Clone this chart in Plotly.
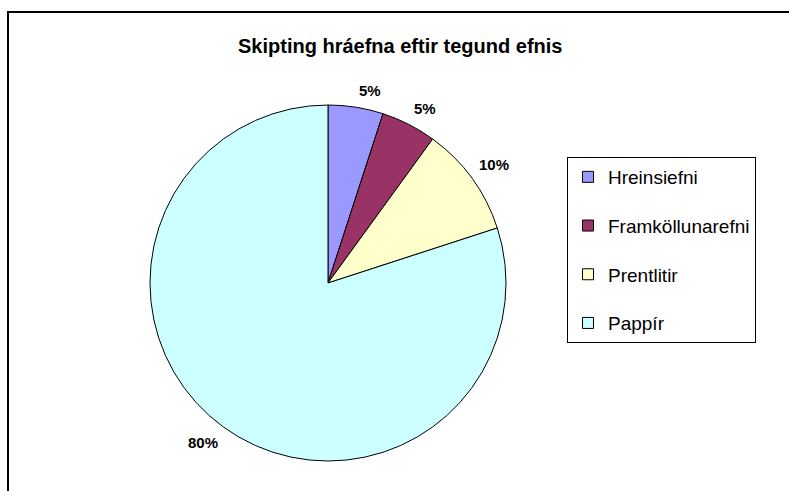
import math
import plotly.graph_objects as go

title = "Skipting hráefna eftir tegund efnis"
categories = ["Hreinsiefni", "Framköllunarefni", "Prentlitir", "Pappír"]
values = [5, 5, 10, 80]
colors = ["#9999FF", "#993366", "#FFFFCC", "#CCFFFF"]

W, H = 789, 491
# pie geometry (pixels)
CX, CY, R = 328, 283, 178
FONT = "Liberation Sans, Arial"

fig = go.Figure()
fig.add_trace(go.Pie(
    labels=categories, values=values, sort=False, direction="clockwise",
    rotation=0, marker=dict(colors=colors, line=dict(color="black", width=1)),
    textinfo="none", hoverinfo="label+percent", showlegend=False,
    domain=dict(x=[(CX - R) / W, (CX + R) / W], y=[1 - (CY + R) / H, 1 - (CY - R) / H]),
))

# legend via dummy traces (one group per category for spacing)
for i, (c, col) in enumerate(zip(categories, colors)):
    fig.add_trace(go.Scatter(
        x=[None], y=[None], mode="markers", name=c, legendgroup=f"g{i}",
        marker=dict(symbol="square", size=11, color=col, line=dict(color="black", width=1)),
    ))

# percentage labels computed from data, placed just outside each slice
total = sum(values)
annotations = []
cum = 0
for v in values:
    mid = (cum + v / 2) / total * 2 * math.pi
    cum += v
    ux, uy = math.sin(mid), -math.cos(mid)
    pct = f"{round(v / total * 100)}%"
    px = CX + (R + 6) * ux
    py = CY + (R + 6) * uy
    annotations.append(dict(
        x=px / W, y=1 - py / H, xref="paper", yref="paper", text=f"<b>{pct}</b>",
        showarrow=False,
        xanchor="left" if ux > 0.05 else ("right" if ux < -0.05 else "center"),
        yanchor="bottom" if uy < 0 else "top",
        font=dict(family=FONT, size=15, color="black"),
    ))

annotations.append(dict(
    x=400 / W, y=1 - 46 / H, xref="paper", yref="paper", text=f"<b>{title}</b>",
    showarrow=False, xanchor="center", yanchor="middle",
    font=dict(family=FONT, size=20, color="black"),
))

fig.update_layout(
    width=W, height=H, margin=dict(l=0, r=0, t=0, b=0),
    paper_bgcolor="white", plot_bgcolor="white",
    xaxis=dict(visible=False), yaxis=dict(visible=False),
    annotations=annotations,
    shapes=[dict(type="rect", xref="paper", yref="paper",
                 x0=8 / W, x1=1.02, y0=-0.02, y1=1 - 12 / H,
                 line=dict(color="black", width=2), fillcolor="rgba(0,0,0,0)")],
    legend=dict(x=567 / W, y=1 - 157 / H, xanchor="left", yanchor="top",
                bordercolor="black", borderwidth=1, bgcolor="white",
                tracegroupgap=21,
                font=dict(family=FONT, size=19, color="black")),
    showlegend=True,
)

fig.write_html("out.html", config={"displayModeBar": False},
               post_script="document.body.style.margin='0';document.body.style.overflow='hidden';")
